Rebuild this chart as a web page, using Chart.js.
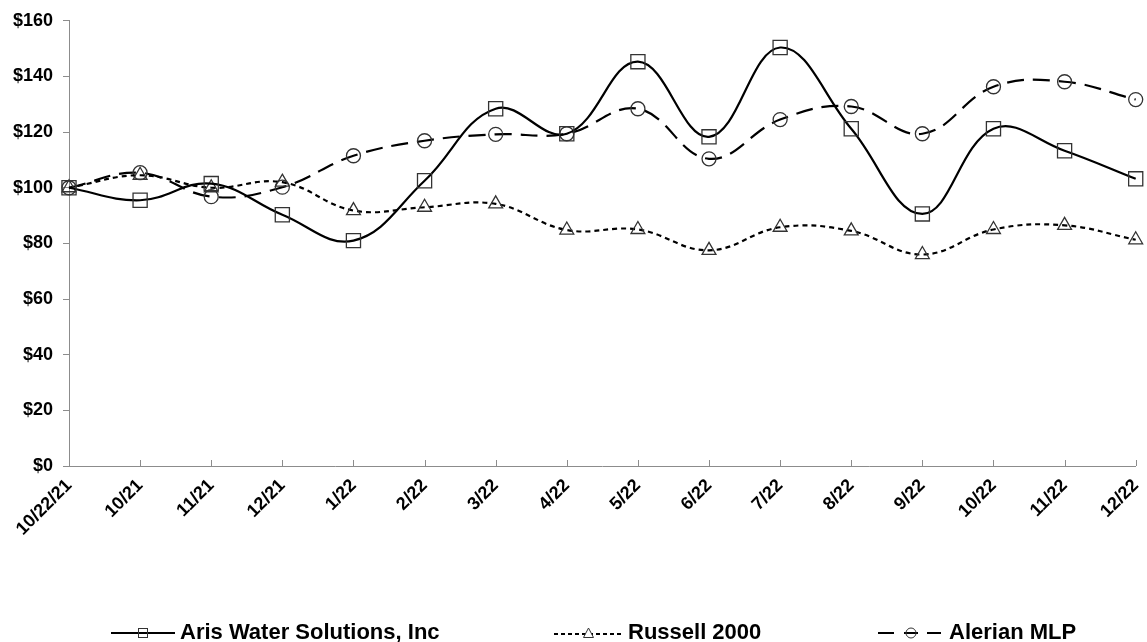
<!DOCTYPE html>
<html>
<head>
<meta charset="utf-8">
<script src="https://cdn.jsdelivr.net/npm/chart.js@4/dist/chart.umd.min.js"></script>
<style>
  html, body { margin: 0; padding: 0; background: #fff; }
  #wrap { position: relative; width: 1147px; height: 642px; overflow: hidden; }
  canvas { position: absolute; left: 0; top: 0; }
  .leg { position: absolute; top: 619px; height: 26px; display: flex; align-items: center;
         font-family: "Liberation Sans", Arial, sans-serif; font-weight: bold; font-size: 22px; color: #000; white-space: nowrap; }
  .leg svg { margin-right: 5px; }
</style>
</head>
<body>
<div id="wrap">
  <canvas id="c" width="1147" height="642"></canvas>
  <div class="leg" style="left:111px">
    <svg width="64" height="20"><line x1="0" y1="11" x2="64" y2="11" stroke="#000" stroke-width="2"/><rect x="27.5" y="6.5" width="9" height="9" fill="none" stroke="#333" stroke-width="1"/></svg>
    <span>Aris Water Solutions, Inc</span>
  </div>
  <div class="leg" style="left:554px">
    <svg width="69" height="20"><line x1="0" y1="12" x2="69" y2="12" stroke="#000" stroke-width="2" stroke-dasharray="4,3"/><polygon points="34.5,6 39.5,15.5 29.5,15.5" fill="#fff" stroke="#333" stroke-width="1"/></svg>
    <span>Russell 2000</span>
  </div>
  <div class="leg" style="left:878px">
    <svg width="66" height="20"><line x1="0" y1="11" x2="66" y2="11" stroke="#000" stroke-width="2" stroke-dasharray="16,10,14,9,14"/><circle cx="33" cy="11" r="5" fill="none" stroke="#333" stroke-width="1"/></svg>
    <span>Alerian MLP</span>
  </div>
</div>
<script>
const categories = ['10/22/21','10/21','11/21','12/21','1/22','2/22','3/22','4/22','5/22','6/22','7/22','8/22','9/22','10/22','11/22','12/22'];
const arisValues = [100, 95.5, 101.5, 90.3, 81, 102.5, 128.4, 119.4, 145.3, 118.3, 150.4, 121.2, 90.6, 121.2, 113.3, 103.2];
const russellValues = [100, 104.5, 100, 102, 91.8, 93, 94.2, 84.8, 85, 77.5, 85.8, 84.5, 76, 85, 86.5, 81.3];
const alerianValues = [100, 105.4, 96.8, 100.2, 111.5, 116.9, 119.2, 119.4, 128.4, 110.4, 124.5, 129.2, 119.4, 136.3, 138.1, 131.7];
const yTickValues = [0, 20, 40, 60, 80, 100, 120, 140, 160];

const axisColor = '#8c8c8c';
const font = { family: '"Liberation Sans", Arial, sans-serif', weight: 'bold', size: 18 };

const inwardTicks = {
  id: 'inwardTicks',
  beforeDatasetsDraw(chart) {
    const xs = chart.scales.x, ctx = chart.ctx, b = chart.chartArea.bottom;
    ctx.save();
    ctx.strokeStyle = axisColor;
    ctx.lineWidth = 1;
    ctx.beginPath();
    xs.ticks.forEach((t, i) => {
      const x = Math.round(xs.getPixelForTick(i)) + 0.5;
      ctx.moveTo(x, b);
      ctx.lineTo(x, b - 6);
    });
    ctx.stroke();
    ctx.restore();
  }
};

new Chart(document.getElementById('c'), {
  type: 'line',
  data: {
    labels: categories,
    datasets: [
      { label: 'Aris Water Solutions, Inc', data: arisValues, borderColor: '#000', borderWidth: 2.2, tension: 0.4,
        pointStyle: 'rect', pointRadius: 10, pointBorderColor: '#333', pointBorderWidth: 1.3, pointBackgroundColor: 'rgba(0,0,0,0)' },
      { label: 'Russell 2000', data: russellValues, borderColor: '#000', borderWidth: 2.2, borderDash: [5, 4], tension: 0.4,
        pointStyle: 'triangle', pointRadius: 8, pointBorderColor: '#333', pointBorderWidth: 1.3, pointBackgroundColor: 'rgba(0,0,0,0)' },
      { label: 'Alerian MLP', data: alerianValues, borderColor: '#000', borderWidth: 2.2, borderDash: [17, 9], tension: 0.4,
        pointStyle: 'circle', pointRadius: 7, pointBorderColor: '#333', pointBorderWidth: 1.3, pointBackgroundColor: 'rgba(0,0,0,0)' }
    ]
  },
  options: {
    responsive: false,
    animation: false,
    layout: { padding: { top: 20, right: 9, left: 0, bottom: 0 } },
    plugins: { legend: { display: false }, tooltip: { enabled: false } },
    scales: {
      x: {
        type: 'category',
        offset: false,
        grid: { display: false },
        border: { display: true, color: axisColor, width: 1 },
        ticks: { color: '#000', font: font, maxRotation: 45, minRotation: 45, padding: 1, autoSkip: false },
        afterFit: s => { s.height = 176; s.paddingRight = 0; s.paddingLeft = 0; }
      },
      y: {
        min: 0, max: 160,
        afterBuildTicks: s => { s.ticks = yTickValues.map(v => ({ value: v })); },
        grid: { drawOnChartArea: false, drawTicks: true, tickLength: 6, color: axisColor },
        border: { display: true, color: axisColor, width: 1 },
        ticks: { color: '#000', font: font, padding: 10, callback: v => '$' + v },
        afterFit: s => { s.width = 69; }
      }
    }
  },
  plugins: [inwardTicks]
});
</script>
</body>
</html>
